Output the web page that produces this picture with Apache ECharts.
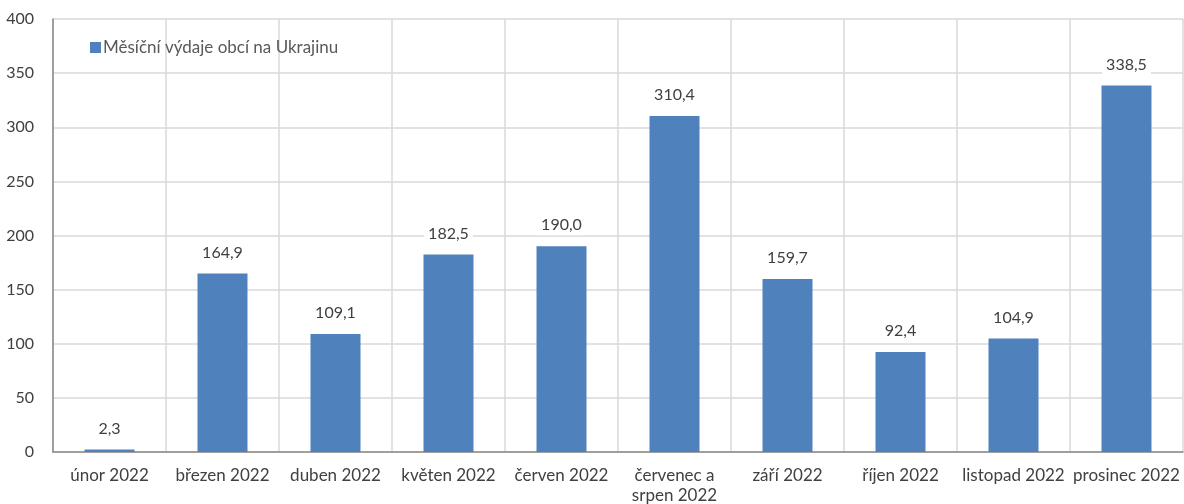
<!DOCTYPE html>
<html><head><meta charset="utf-8">
<script src="https://cdn.jsdelivr.net/npm/echarts@6/dist/echarts.min.js"></script>
<style>html,body{margin:0;padding:0;background:#fff}#c{width:1184px;height:504px}</style>
</head><body><div id="c"></div>
<script>
const categories = ["únor 2022","březen 2022","duben 2022","květen 2022","červen 2022","červenec a\nsrpen 2022","září 2022","říjen 2022","listopad 2022","prosinec 2022"];
const values = [2.3,164.9,109.1,182.5,190.0,310.4,159.7,92.4,104.9,338.5];
const seriesName = "Měsíční výdaje obcí na Ukrajinu";
const FONT = "Lato";
const chart = echarts.init(document.getElementById('c'));
chart.setOption({
  animation:false,
  textStyle:{fontFamily:FONT},
  grid:{left:53,right:1,top:19,bottom:52,containLabel:false,outerBoundsMode:'none'},
  legend:{show:true,left:85,top:34,itemWidth:11,itemHeight:11,itemGap:4,
    icon:'rect',data:[seriesName],
    textStyle:{fontFamily:FONT,fontSize:17,color:'#595959',padding:[0,0,0,-3]}},
  xAxis:{type:'category',data:categories,boundaryGap:true,
    axisLine:{lineStyle:{color:'#898989',width:1.5}},
    axisTick:{show:false},
    axisLabel:{fontFamily:FONT,fontSize:17,color:'#404040',margin:14,lineHeight:20,interval:0},
    splitLine:{show:true,interval:0,lineStyle:{color:'#d9d9d9',width:1.5}}},
  yAxis:{type:'value',min:0,max:400,interval:50,
    axisLine:{show:true,lineStyle:{color:'#898989',width:1.5}},
    axisTick:{show:false},
    axisLabel:{fontFamily:FONT,fontSize:16,color:'#404040',margin:19},
    splitLine:{lineStyle:{color:'#d9d9d9',width:1.5}}},
  series:[{name:seriesName,type:'bar',data:values,barWidth:50,
    itemStyle:{color:'#4F81BD'},
    label:{show:true,position:'top',distance:11,fontFamily:FONT,fontSize:16,color:'#404040',
      backgroundColor:'#ffffff',padding:[2,4],
      formatter:p=>p.value.toFixed(1).replace('.',',')}}]
});
</script></body></html>
